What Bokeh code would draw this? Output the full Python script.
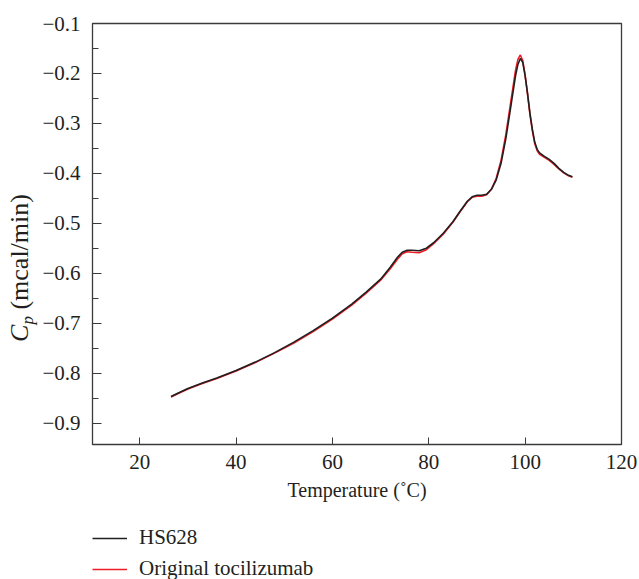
from bokeh.plotting import figure
from bokeh.layouts import row, column
from bokeh.models import (FixedTicker, CustomJSTickFormatter, Legend, LegendItem,
                          Range1d, Div)
from bokeh.embed import file_html
from bokeh.resources import INLINE

# ---- data ----
temperature = [26.5, 28, 30, 33, 36, 40, 44, 48, 52, 56, 60, 64, 67, 70, 72, 73.5,
               74.5, 75.5, 76.5, 78, 79.5, 81, 83, 85, 86.5, 88, 89, 90, 91, 92,
               93, 94, 95, 96, 97, 98, 98.5, 99, 99.5, 100, 100.5, 101, 101.5,
               102, 102.5, 103, 104, 105, 106, 107, 108, 109, 109.8]
cp_hs628 = [-0.847, -0.840, -0.831, -0.820, -0.810, -0.795, -0.778, -0.759,
            -0.738, -0.715, -0.690, -0.662, -0.638, -0.612, -0.588, -0.568,
            -0.558, -0.554, -0.554, -0.555, -0.550, -0.539, -0.520, -0.497,
            -0.476, -0.456, -0.447, -0.444, -0.444, -0.442, -0.432, -0.413,
            -0.380, -0.330, -0.268, -0.205, -0.182, -0.170, -0.178, -0.205,
            -0.240, -0.280, -0.312, -0.338, -0.352, -0.359, -0.366, -0.372,
            -0.380, -0.390, -0.398, -0.404, -0.407]
cp_original = [-0.848, -0.841, -0.832, -0.821, -0.811, -0.796, -0.779, -0.760,
               -0.740, -0.717, -0.692, -0.664, -0.640, -0.614, -0.591, -0.572,
               -0.561, -0.557, -0.558, -0.559, -0.553, -0.541, -0.522, -0.498,
               -0.477, -0.457, -0.448, -0.446, -0.446, -0.443, -0.432, -0.410,
               -0.374, -0.322, -0.258, -0.194, -0.172, -0.163, -0.174, -0.204,
               -0.242, -0.282, -0.315, -0.341, -0.355, -0.362, -0.368, -0.374,
               -0.382, -0.391, -0.399, -0.405, -0.408]
series_names = ["HS628", "Original tocilizumab"]
series_colors = ["#231f20", "#ed1c24"]
x_tick_values = [20, 40, 60, 80, 100, 120]
y_tick_values = [-0.9, -0.8, -0.7, -0.6, -0.5, -0.4, -0.3, -0.2, -0.1]
y_tick_labels = ["\u22120.9", "\u22120.8", "\u22120.7", "\u22120.6", "\u22120.5",
                 "\u22120.4", "\u22120.3", "\u22120.2", "\u22120.1"]
y_minor_values = [-0.85, -0.75, -0.65, -0.55, -0.45, -0.35, -0.25, -0.15]
x_label = "Temperature (\u02daC)"
y_label_html = ('<i>C</i><sub style="font-size:17px;vertical-align:-5px">'
                '<i>p</i></sub> (mcal/min)')

FONT = "Liberation Serif"
FS = "21px"
INK = "#231f20"
FRAME = "#3a3a3a"
LW = 1.6

# ---- main plot ----
p = figure(width=601, height=512, output_backend="svg",
           toolbar_location=None,
           x_range=Range1d(10.2, 120), y_range=Range1d(-0.943, -0.1),
           min_border_left=54, min_border_right=18, min_border_top=23,
           min_border_bottom=68)
p.background_fill_color = "white"
p.border_fill_color = "white"
p.outline_line_color = FRAME
p.outline_line_width = 1.3
p.xgrid.visible = False
p.ygrid.visible = False

p.line(temperature, cp_original, line_color=series_colors[1], line_width=LW)
p.line(temperature, cp_hs628, line_color=series_colors[0], line_width=LW)

xa = p.xaxis[0]
xa.ticker = FixedTicker(ticks=x_tick_values)
xa.major_tick_in = 7
xa.major_tick_out = 0
xa.minor_tick_line_color = None
xa.axis_line_color = FRAME
xa.major_tick_line_color = FRAME
xa.major_label_text_font = FONT
xa.major_label_text_font_size = FS
xa.major_label_text_color = INK
xa.major_label_standoff = 10
xa.axis_label = x_label
xa.axis_label_text_font = FONT
xa.axis_label_text_font_size = "20px"
xa.axis_label_text_font_style = "normal"
xa.axis_label_text_color = INK
xa.axis_label_standoff = 7

ya = p.yaxis[0]
ya.ticker = FixedTicker(ticks=y_tick_values, minor_ticks=y_minor_values)
ya.formatter = CustomJSTickFormatter(args=dict(vals=y_tick_values, labs=y_tick_labels), code="""
let best = 0;
for (let i = 0; i < vals.length; i++) {
  if (Math.abs(vals[i] - tick) < Math.abs(vals[best] - tick)) best = i;
}
return labs[best];
""")
ya.major_tick_in = 9
ya.major_tick_out = 0
ya.minor_tick_in = 6
ya.minor_tick_out = 0
ya.axis_line_color = FRAME
ya.major_tick_line_color = FRAME
ya.minor_tick_line_color = FRAME
ya.major_label_text_font = FONT
ya.major_label_text_font_size = FS
ya.major_label_text_color = INK
ya.major_label_standoff = 12

# ---- legend strip below the plot (same series, drawn outside its view) ----
leg = figure(width=639, height=67, output_backend="svg", toolbar_location=None,
             x_range=Range1d(0, 1), y_range=Range1d(0, 1),
             x_axis_location=None, y_axis_location=None,
             min_border_left=0, min_border_right=0, min_border_top=0,
             min_border_bottom=0)
leg.outline_line_color = None
leg.xgrid.visible = False
leg.ygrid.visible = False
leg_hs = leg.line(temperature, cp_hs628, line_color=series_colors[0], line_width=LW)
leg_orig = leg.line(temperature, cp_original, line_color=series_colors[1], line_width=LW)
legend = Legend(items=[LegendItem(label=series_names[0], renderers=[leg_hs]),
                       LegendItem(label=series_names[1], renderers=[leg_orig])],
                location=(92, -2), orientation="vertical",
                label_text_font=FONT, label_text_font_size=FS,
                label_text_color=INK,
                glyph_width=35, glyph_height=22, label_height=22,
                label_standoff=12, spacing=6, padding=0, margin=0,
                border_line_alpha=0, background_fill_alpha=0)
leg.add_layout(legend, "center")

# ---- rotated y-axis label ----
ylab = Div(text=(
    '<div style="position:relative;width:38px;height:512px;">'
    '<div style="position:absolute;left:24px;top:268px;'
    'transform:translate(-50%,-50%) rotate(-90deg);white-space:nowrap;'
    "font-family:'Liberation Serif';font-size:26px;line-height:26px;color:#231f20;\">"
    + y_label_html + '</div></div>'),
    width=38, height=512, margin=0)

layout = column(row(ylab, p), leg)
open("out.html", "w").write(file_html(layout, INLINE))
